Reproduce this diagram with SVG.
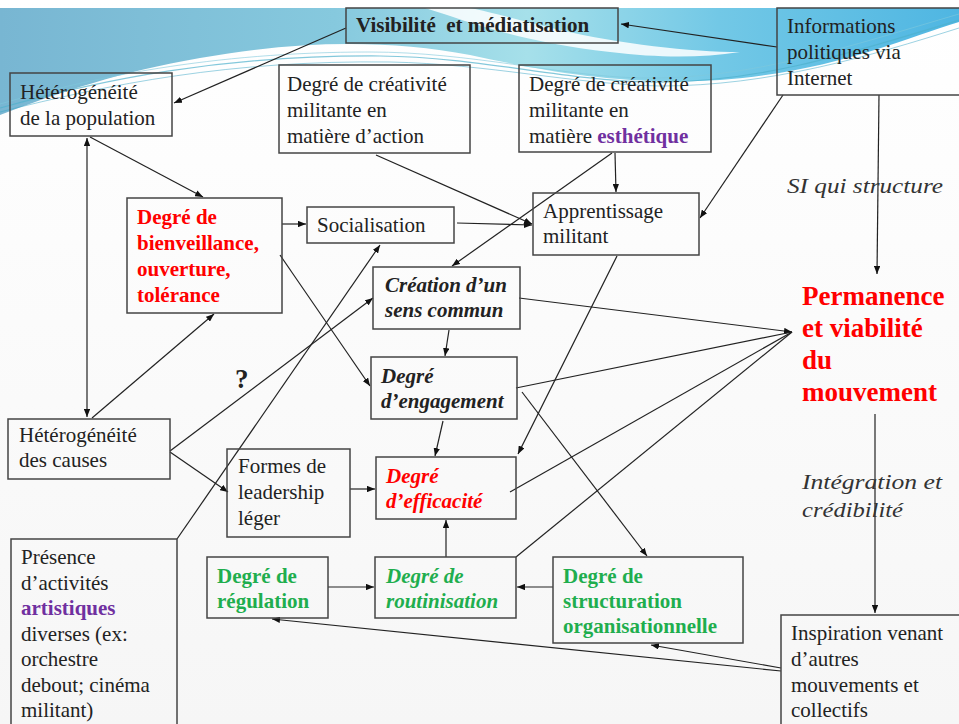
<svg xmlns="http://www.w3.org/2000/svg" width="959" height="724" viewBox="0 0 959 724">
<defs>
<linearGradient id="bg" x1="0" y1="0" x2="0" y2="1"><stop offset="0" stop-color="#ffffff"/><stop offset="1" stop-color="#f6f6f6"/></linearGradient>
<linearGradient id="wave" x1="0" y1="0" x2="1" y2="0"><stop offset="0" stop-color="#78b6d2"/><stop offset="0.35" stop-color="#86c9de"/><stop offset="0.55" stop-color="#a6e0ea"/><stop offset="0.75" stop-color="#72c8e6"/><stop offset="1" stop-color="#4fb6e2"/></linearGradient>
<marker id="ah" viewBox="0 0 10 8" refX="10" refY="4" markerWidth="8" markerHeight="6.4" markerUnits="userSpaceOnUse" orient="auto-start-reverse"><path d="M0,0 L10,4 L0,8 Z" fill="#111"/></marker>
<style>
.box{fill:none;stroke:#444;stroke-width:1.5}
.t{font-family:"Liberation Serif","Times New Roman",serif;font-size:21px;fill:#222}
.b{font-weight:bold}
.i{font-style:italic}
.red{fill:#ff0000}
.grn{fill:#1fae4e}
.pur{fill:#7030a0}
.big{font-size:27px}
.lab{font-family:"Liberation Serif","Times New Roman",serif;font-style:italic;font-size:22px;fill:#333}
#connectors line{stroke:#222;stroke-width:1.2;fill:none}
.a{marker-end:url(#ah)}
.a2{marker-start:url(#ah);marker-end:url(#ah)}
</style>
</defs>
<rect x="0" y="0" width="959" height="724" fill="url(#bg)"/>
<g id="background-wave">
<path d="M0,8 L959,8 L959,22 C900,40 830,72 720,80 C620,86 540,70 470,55 C390,40 300,40 200,58 C120,72 60,92 0,115 Z" fill="url(#wave)"/>
<path d="M425,8 C470,22 520,42 610,52 C660,58 700,58 740,52 C690,52 620,44 560,30 C520,20 490,12 470,8 Z" fill="#ffffff" opacity="0.85"/>
<path d="M0,108 C100,80 220,55 380,56 C480,57 560,80 650,82 C760,84 860,50 959,20" stroke="#4fb0cc" stroke-width="1.2" fill="none" opacity="0.7"/>
<path d="M0,112 C110,84 230,60 390,62 C490,64 570,84 660,86 C770,86 870,56 959,28" stroke="#3aa6c6" stroke-width="1" fill="none" opacity="0.5"/>
<path d="M0,104 C90,78 210,52 370,52 C470,52 560,76 640,78 C750,80 850,46 959,14" stroke="#7fc8dc" stroke-width="1" fill="none" opacity="0.6"/>
</g>

<g id="connectors">
<line class="a" x1="777" y1="47" x2="621" y2="24"/>
<line class="a" x1="346" y1="28" x2="174" y2="103"/>
<line class="a" x1="90" y1="137" x2="203" y2="197"/>
<line class="a2" x1="87" y1="138" x2="87" y2="417"/>
<line class="a" x1="92" y1="418" x2="214" y2="314"/>
<line class="a" x1="282" y1="224" x2="306" y2="224"/>
<line class="a" x1="280" y1="255" x2="370" y2="386"/>
<line class="a" x1="457" y1="223" x2="532" y2="225"/>
<line class="a" x1="376" y1="155" x2="532" y2="224"/>
<line class="a" x1="615" y1="153" x2="616" y2="192"/>
<line class="a" x1="612" y1="153" x2="452" y2="266"/>
<line class="a" x1="783" y1="95" x2="700" y2="218"/>
<line class="a" x1="879" y1="95" x2="877" y2="274"/>
<line class="a" x1="177" y1="539" x2="380" y2="245"/>
<line class="a" x1="170" y1="451" x2="373" y2="298"/>
<line class="a" x1="170" y1="452" x2="228" y2="492"/>
<line class="a" x1="449" y1="330" x2="445" y2="356"/>
<line class="a" x1="519" y1="298" x2="792" y2="332"/>
<line x1="516" y1="388" x2="792" y2="332"/>
<line class="a" x1="443" y1="421" x2="435" y2="456"/>
<line class="a" x1="522" y1="392" x2="647" y2="556"/>
<line class="a" x1="617" y1="256" x2="518" y2="454"/>
<line x1="510" y1="492" x2="792" y2="332"/>
<line x1="516" y1="557" x2="792" y2="332"/>
<line class="a" x1="350" y1="489" x2="375" y2="489"/>
<line class="a" x1="446" y1="557" x2="446" y2="520"/>
<line class="a" x1="328" y1="587" x2="374" y2="587"/>
<line class="a" x1="553" y1="587" x2="517" y2="587"/>
<line class="a" x1="875" y1="414" x2="875" y2="613"/>
<line class="a" x1="781" y1="671" x2="272" y2="619"/>
<line class="a" x1="781" y1="668" x2="651" y2="645"/>
</g>

<g id="n-visibilite"><rect class="box" x="346" y="8" width="272" height="35"/><text class="t b" x="356" y="32" xml:space="preserve">Visibilité  et médiatisation</text></g>
<g id="n-informations"><rect class="box" x="777" y="8" width="186" height="87"/><text class="t" x="787"><tspan x="787" y="33">Informations</tspan><tspan x="787" y="59">politiques via</tspan><tspan x="787" y="85">Internet</tspan></text></g>
<g id="n-heterogeneite-pop"><rect class="box" x="10" y="73" width="162" height="63"/><text class="t"><tspan x="20" y="99">Hétérogénéité</tspan><tspan x="20" y="125">de la population</tspan></text></g>
<g id="n-creativite-action"><rect class="box" x="279" y="65" width="191" height="88"/><text class="t"><tspan x="287" y="91">Degré de créativité</tspan><tspan x="287" y="117">militante en</tspan><tspan x="287" y="143">matière d’action</tspan></text></g>
<g id="n-creativite-esthetique"><rect class="box" x="519" y="65" width="192" height="87"/><text class="t"><tspan x="529" y="91">Degré de créativité</tspan><tspan x="529" y="117">militante en</tspan><tspan x="529" y="143">matière <tspan class="b pur">esthétique</tspan></tspan></text></g>
<g id="n-bienveillance"><rect class="box" x="127" y="198" width="155" height="115"/><text class="t b red"><tspan x="137" y="224">Degré de</tspan><tspan x="137" y="250">bienveillance,</tspan><tspan x="137" y="276">ouverture,</tspan><tspan x="137" y="302">tolérance</tspan></text></g>
<g id="n-socialisation"><rect class="box" x="307" y="207" width="147" height="36"/><text class="t" x="317" y="232">Socialisation</text></g>
<g id="n-apprentissage"><rect class="box" x="533" y="193" width="166" height="62"/><text class="t"><tspan x="543" y="218">Apprentissage</tspan><tspan x="543" y="243">militant</tspan></text></g>
<g id="n-sens-commun"><rect class="box" x="373" y="267" width="147" height="62"/><text class="t b i"><tspan x="385" y="292">Création d’un</tspan><tspan x="385" y="317">sens commun</tspan></text></g>
<g id="n-engagement"><rect class="box" x="371" y="357" width="146" height="62"/><text class="t b i"><tspan x="381" y="383">Degré</tspan><tspan x="381" y="408">d’engagement</tspan></text></g>
<g id="n-efficacite"><rect class="box" x="376" y="457" width="140" height="62"/><text class="t b i red"><tspan x="386" y="483">Degré</tspan><tspan x="386" y="508">d’efficacité</tspan></text></g>
<g id="n-leadership"><rect class="box" x="227" y="449" width="123" height="88"/><text class="t"><tspan x="238" y="473">Formes de</tspan><tspan x="238" y="499">leadership</tspan><tspan x="238" y="525">léger</tspan></text></g>
<g id="n-heterogeneite-causes"><rect class="box" x="8" y="419" width="162" height="60"/><text class="t"><tspan x="19" y="442">Hétérogénéité</tspan><tspan x="19" y="467">des causes</tspan></text></g>
<g id="n-presence"><rect class="box" x="11" y="539" width="166" height="200"/><text class="t"><tspan x="21" y="564">Présence</tspan><tspan x="21" y="590">d’activités</tspan><tspan x="21" y="615" class="b pur">artistiques</tspan><tspan x="21" y="641">diverses (ex:</tspan><tspan x="21" y="666">orchestre</tspan><tspan x="21" y="692">debout; cinéma</tspan><tspan x="21" y="717">militant)</tspan></text></g>
<g id="n-regulation"><rect class="box" x="207" y="557" width="121" height="61"/><text class="t b grn"><tspan x="217" y="583">Degré de</tspan><tspan x="217" y="608">régulation</tspan></text></g>
<g id="n-routinisation"><rect class="box" x="375" y="557" width="141" height="61"/><text class="t b i grn"><tspan x="386" y="583">Degré de</tspan><tspan x="386" y="608">routinisation</tspan></text></g>
<g id="n-structuration"><rect class="box" x="553" y="557" width="190" height="86"/><text class="t b grn"><tspan x="563" y="583">Degré de</tspan><tspan x="563" y="608">structuration</tspan><tspan x="563" y="633">organisationnelle</tspan></text></g>
<g id="n-inspiration"><rect class="box" x="781" y="615" width="182" height="120"/><text class="t"><tspan x="791" y="640">Inspiration  venant</tspan><tspan x="791" y="666">d’autres</tspan><tspan x="791" y="692">mouvements  et</tspan><tspan x="791" y="717">collectifs</tspan></text></g>
<g id="n-permanence"><text class="t b red big"><tspan x="802" y="305">Permanence</tspan><tspan x="802" y="337">et viabilité</tspan><tspan x="802" y="369">du</tspan><tspan x="802" y="401">mouvement</tspan></text></g>
<g id="labels">
<text class="lab" x="787" y="193" textLength="156" lengthAdjust="spacingAndGlyphs">SI qui structure</text>
<text class="lab" x="802" y="489" textLength="140" lengthAdjust="spacingAndGlyphs">Intégration et</text>
<text class="lab" x="802" y="517" textLength="101" lengthAdjust="spacingAndGlyphs">crédibilité</text>
<text class="t b big" x="235" y="388">?</text>
</g>
</svg>
